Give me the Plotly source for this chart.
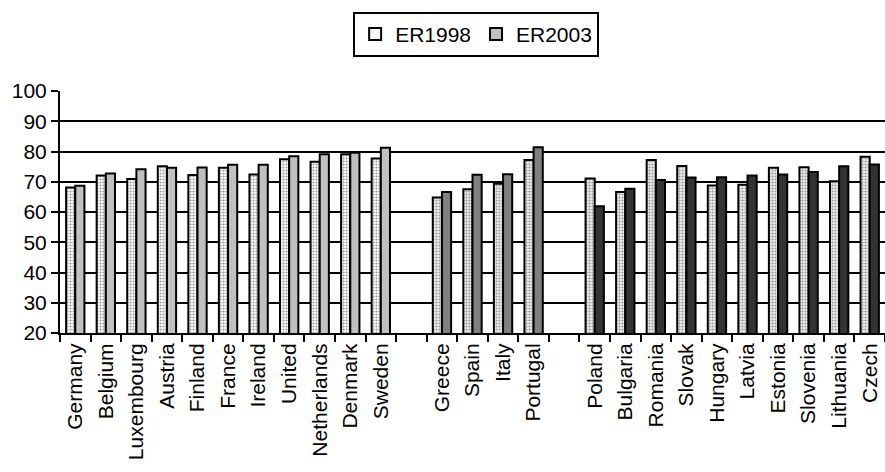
import plotly.graph_objects as go

categories = ["Germany", "Belgium", "Luxembourg", "Austria", "Finland", "France",
              "Ireland", "United", "Netherlands", "Denmark", "Sweden", " ",
              "Greece", "Spain", "Italy", "Portugal", "  ",
              "Poland", "Bulgaria", "Romania", "Slovak", "Hungary", "Latvia",
              "Estonia", "Slovenia", "Lithuania", "Czech"]

er1998 = [68.1, 72.1, 70.9, 75.1, 72.2, 74.6, 72.4, 77.4, 76.6, 79.1, 77.7, None,
          64.8, 67.5, 69.3, 77.2, None,
          71.1, 66.6, 77.2, 75.2, 68.8, 69.0, 74.6, 74.8, 70.2, 78.3]
er2003 = [68.7, 72.7, 74.1, 74.6, 74.7, 75.6, 75.6, 78.4, 79.1, 79.6, 81.2, None,
          66.6, 72.3, 72.5, 81.4, None,
          61.9, 67.7, 70.6, 71.4, 71.5, 72.1, 72.4, 73.2, 75.1, 75.7]
group = ["EU15"] * 11 + [""] + ["South"] * 4 + [""] + ["CEE"] * 10

y_ticks = [20, 30, 40, 50, 60, 70, 80, 90, 100]

fg1998 = {"EU15": "#e2e2e2", "South": "#a8a8a8", "CEE": "#a8a8a8", "": "#ffffff"}
bg1998 = {"EU15": "#fafafa", "South": "#ededed", "CEE": "#ededed", "": "#ffffff"}
col2003 = {"EU15": "#c0c0c0", "South": "#808080", "CEE": "#333333", "": "#ffffff"}

FONT = "Liberation Sans, Arial, sans-serif"

fig = go.Figure()
fig.add_trace(go.Bar(
    x=categories, y=er1998, name="ER1998",
    marker=dict(
        color=[bg1998[g] for g in group],
        line=dict(color="black", width=2),
        pattern=dict(shape=".", fgcolor=[fg1998[g] for g in group],
                     bgcolor=[bg1998[g] for g in group], size=3, solidity=0.4),
    ),
))
fig.add_trace(go.Bar(
    x=categories, y=er2003, name="ER2003",
    marker=dict(color=[col2003[g] for g in group],
                line=dict(color="black", width=2)),
))

fig.update_layout(
    width=885, height=472,
    margin=dict(l=60, r=0, t=91, b=139),
    paper_bgcolor="white", plot_bgcolor="white",
    font=dict(family=FONT, size=21, color="black"),
    barmode="group", bargap=0.4, bargroupgap=0,
    showlegend=True,
    legend=dict(orientation="h", xref="container", yref="container",
                x=0.538, xanchor="center", y=0.975, yanchor="top",
                bordercolor="black", borderwidth=2, bgcolor="white",
                font=dict(size=21, family=FONT), itemwidth=30,
                tracegroupgap=0),
)
fig.update_xaxes(
    type="category", categoryorder="array", categoryarray=categories,
    tickson="boundaries", ticks="outside", ticklen=7, tickwidth=2, tickcolor="black",
    showline=True, linecolor="black", linewidth=2, showgrid=False,
    tickangle=-90, tickfont=dict(size=21, family=FONT), fixedrange=True,
)
fig.update_yaxes(
    range=[20, 100], tickvals=y_ticks, ticks="outside", ticklen=7, tickwidth=2,
    tickcolor="black", showline=True, linecolor="black", linewidth=2,
    showgrid=True, gridcolor="black", gridwidth=2, zeroline=False,
    tickfont=dict(size=21, family=FONT), fixedrange=True,
)

fig.write_html("out.html", post_script="document.body.style.margin='0';",
               config={"displayModeBar": False})
